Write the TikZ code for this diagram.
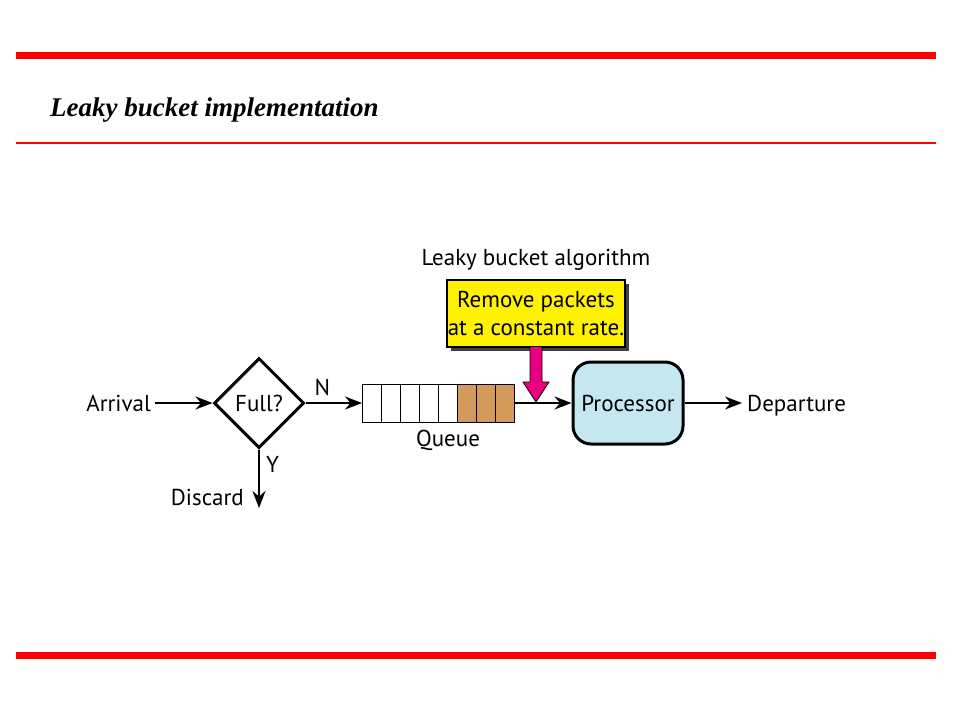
\documentclass[tikz,border=0pt]{standalone}
\usepackage{fontspec}
\setmainfont{PT Sans}
\newfontfamily\titlefont{Liberation Serif}
\usetikzlibrary{shapes.geometric,arrows.meta,shadows}
\definecolor{barred}{RGB}{255,0,0}
\definecolor{pktbrown}{RGB}{212,154,92}
\definecolor{procblue}{RGB}{197,232,240}
\definecolor{droppink}{RGB}{232,0,126}

\begin{document}
\begin{tikzpicture}[x=1pt,y=-1pt,
	lbl/.style={font=\fontsize{23}{27}\selectfont,inner sep=0},
	flow/.style={line width=2pt,-{Stealth[length=17pt,width=13pt]}},
	cell/.style={draw,line width=1pt,minimum width=19.1pt,minimum height=38pt,inner sep=0,outer sep=0}]
	\useasboundingbox (0,0) rectangle (960,720);
	\fill[barred] (16,52) rectangle (936,59);
	\fill[barred] (16,142) rectangle (936,144);
	\fill[barred] (16,652) rectangle (936,659);
	\node[anchor=base west,inner sep=0,font=\titlefont\bfseries\itshape\fontsize{27}{30}\selectfont] (title) at (50,116) {Leaky bucket implementation};
	\node[lbl,anchor=east] (arrival) at (151,403) {Arrival};
	\node[draw,diamond,line width=3pt,minimum width=90pt,minimum height=90pt,inner sep=0,font=\fontsize{23}{27}\selectfont] (full) at (259,403) {Full?};
	\foreach \i in {1,...,5}
		\node[cell,fill=white] (q\i) at (362+19.1*\i-9.55,403) {};
	\foreach \i in {6,7,8}
		\node[cell,fill=pktbrown] (q\i) at (362+19.1*\i-9.55,403) {};
	\node[lbl] (queue) at (448,440) {Queue};
	\node[draw,rounded corners=18pt,line width=3pt,fill=procblue,minimum width=110pt,minimum height=82pt,inner sep=0,font=\fontsize{23}{27}\selectfont] (proc) at (628,403) {Processor};
	\node[lbl,anchor=base west] (depart) at (747,411) {Departure};
	\node[lbl,anchor=east] (discard) at (244,497) {Discard};
	\coordinate (dend) at (259,508);
	\node[draw,fill=yellow,line width=1.5pt,minimum width=178pt,minimum height=67pt,inner sep=0,align=center,font=\fontsize{23}{28}\selectfont,
		drop shadow={shadow xshift=4pt,shadow yshift=-4pt,fill=black!75,opacity=1}] (rule) at (536,313.5) {Remove packets\\at a constant rate.};
	\node[lbl] (algo) at (536,260) {Leaky bucket algorithm};
	\coordinate (tap) at (536,402);
	% connectors
	\draw[flow,shorten <=4pt] (arrival) -- (full);
	\draw[flow] (full.east) -- node[lbl,pos=0.3,above=6pt] (n) {N} (q1.west);
	\draw[flow] (full.south) -- node[lbl,pos=0.25,right=6pt] (y) {Y} (dend);
	\draw[flow] (q8.east) -- (proc.west);
	\draw[flow,shorten >=5pt] (proc.east) -- (proc.east -| depart.west);
	\draw[fill=droppink,line width=0.8pt] (530,347) -- (530,382) -- (523,382) -- (tap) -- (549,382) -- (542,382) -- (542,347);
\end{tikzpicture}
\end{document}
